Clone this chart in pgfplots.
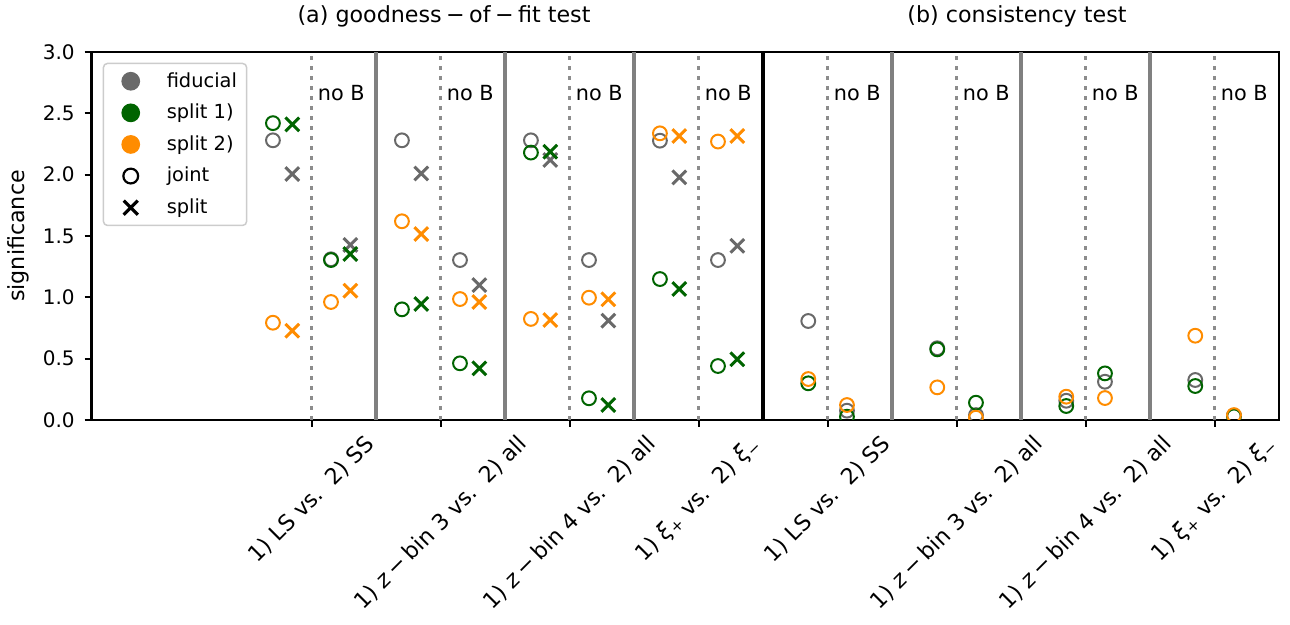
\documentclass[border=0pt]{standalone}
\usepackage{pgfplots}
\pgfplotsset{compat=1.18}
\usepackage{fontspec}
\setmainfont{DejaVu Sans}
\definecolor{cgray}{HTML}{696969}
\definecolor{cgreen}{HTML}{006400}
\definecolor{corange}{HTML}{FF8C00}
\definecolor{lgray}{HTML}{808080}
\definecolor{dgray}{HTML}{8C8C8C}
\pgfplotsset{
  jc/.style={only marks, mark=o, mark size=3.45pt, line width=1pt, forget plot},
  sc/.style={only marks, mark=x, mark size=4.85pt, line width=1.5pt, forget plot},
  sep/.style={forget plot, lgray, line width=1.75pt},
  dot/.style={forget plot, dgray, line width=1.75pt, dash pattern=on 1.75pt off 3.25pt},
}
\tikzset{noB/.style={anchor=west, inner sep=0pt, font=\fontsize{10.4}{12}\selectfont}}
\newcommand{\mi}{\hspace{0.2em}−\hspace{0.2em}}
\begin{document}
\begin{tikzpicture}
\useasboundingbox (-45.85pt,-102.5pt) rectangle (599.15pt,210pt);
\begin{axis}[
  name=ax, at={(0pt,0pt)}, anchor=south west,
  scale only axis, width=593.7pt, height=184pt,
  xmin=-1.705, xmax=7.5, ymin=0, ymax=3,
  axis line style={line width=1.25pt},
  tick align=outside, tick pos=left,
  major tick length=3.5pt,
  every tick/.style={black, line width=1pt},
  xtick={0,1,2,3,4,5,6,7},
  xticklabels={
    {\rotatebox{45}{1) LS vs.\ \ 2) SS}},
    {\rotatebox{45}{1) {\itshape z}\mi bin 3 vs.\ \ 2) all}},
    {\rotatebox{45}{1) {\itshape z}\mi bin 4 vs.\ \ 2) all}},
    {\rotatebox{45}{1) {\itshape ξ}\textsubscript{+} vs.\ \ 2) {\itshape ξ}\textsubscript{−}}},
    {\rotatebox{45}{1) LS vs.\ \ 2) SS}},
    {\rotatebox{45}{1) {\itshape z}\mi bin 3 vs.\ \ 2) all}},
    {\rotatebox{45}{1) {\itshape z}\mi bin 4 vs.\ \ 2) all}},
    {\rotatebox{45}{1) {\itshape ξ}\textsubscript{+} vs.\ \ 2) {\itshape ξ}\textsubscript{−}}}},
  xticklabel style={anchor=north, inner sep=0pt, yshift=-3pt, font=\fontsize{11.1}{13}\selectfont},
  ytick={0,0.5,1,1.5,2,2.5,3},
  /pgf/number format/assume math mode=true,
  yticklabel style={font=\fontsize{10}{12}\selectfont, xshift=-1.5pt, /pgf/number format/fixed, /pgf/number format/fixed zerofill, /pgf/number format/precision=1},
  ylabel={significance},
  ylabel style={at={(axis description cs:-0.0617,0.5)}, anchor=center, font=\fontsize{11.1}{13}\selectfont},
  clip marker paths=true,
  legend image code/.code={\path[draw=none,fill=none] (-8.8pt,-7.9pt) rectangle (12pt,7.9pt); \draw[#1] plot coordinates {(0pt,0pt)};},
  legend style={at={(0,1)}, anchor=north west, xshift=5.5pt, yshift=-5.35pt,
    draw=black!20, line width=0.75pt, rounded corners=2pt, inner xsep=4.85pt, inner ysep=1pt,
    font=\fontsize{9.7}{11}\selectfont, nodes={inner sep=0pt},
    /tikz/every odd column/.append style={column sep=6pt}},
  legend cell align=left,
]
\addlegendimage{only marks, mark=*, mark size=4.3pt, cgray}
\addlegendentry{fiducial}
\addlegendimage{only marks, mark=*, mark size=4.3pt, cgreen}
\addlegendentry{split 1)}
\addlegendimage{only marks, mark=*, mark size=4.3pt, corange}
\addlegendentry{split 2)}
\addlegendimage{only marks, mark=o, mark size=3.7pt, line width=1.1pt, black}
\addlegendentry{joint}
\addlegendimage{only marks, mark=x, mark size=5pt, line width=1.6pt, black}
\addlegendentry{split}

% separators
\addplot[sep] coordinates {(0.5,0) (0.5,3)};
\addplot[sep] coordinates {(1.5,0) (1.5,3)};
\addplot[sep] coordinates {(2.5,0) (2.5,3)};
\addplot[sep] coordinates {(4.5,0) (4.5,3)};
\addplot[sep] coordinates {(5.5,0) (5.5,3)};
\addplot[sep] coordinates {(6.5,0) (6.5,3)};
\addplot[forget plot, black, line width=1.9pt] coordinates {(3.5,0) (3.5,3)};
\addplot[dot] coordinates {(0,0) (0,3)};
\addplot[dot] coordinates {(1,0) (1,3)};
\addplot[dot] coordinates {(2,0) (2,3)};
\addplot[dot] coordinates {(3,0) (3,3)};
\addplot[dot] coordinates {(4,0) (4,3)};
\addplot[dot] coordinates {(5,0) (5,3)};
\addplot[dot] coordinates {(6,0) (6,3)};
\addplot[dot] coordinates {(7,0) (7,3)};

% fiducial
\addplot[jc, cgray] coordinates {(-0.3,2.28) (0.15,1.31) (0.7,2.28) (1.15,1.304) (1.7,2.28) (2.15,1.304) (2.7,2.277) (3.15,1.304)
  (3.85,0.807) (4.15,0.076) (4.85,0.585) (5.15,0.04) (5.85,0.157) (6.15,0.312) (6.85,0.326) (7.15,0.035)};
\addplot[sc, cgray] coordinates {(-0.15,2.005) (0.3,1.427) (0.85,2.01) (1.3,1.10) (1.85,2.12) (2.3,0.81) (2.85,1.978) (3.3,1.42)};
% split 1)
\addplot[jc, cgreen] coordinates {(-0.3,2.42) (0.15,1.304) (0.7,0.902) (1.15,0.462) (1.7,2.18) (2.15,0.177) (2.7,1.149) (3.15,0.44)
  (3.85,0.299) (4.15,0.027) (4.85,0.576) (5.15,0.141) (5.85,0.114) (6.15,0.38) (6.85,0.277) (7.15,0.03)};
\addplot[sc, cgreen] coordinates {(-0.15,2.41) (0.3,1.353) (0.85,0.946) (1.3,0.421) (1.85,2.187) (2.3,0.122) (2.85,1.068) (3.3,0.495)};
% split 2)
\addplot[jc, corange] coordinates {(-0.3,0.793) (0.15,0.962) (0.7,1.62) (1.15,0.986) (1.7,0.824) (2.15,0.997) (2.7,2.337) (3.15,2.27)
  (3.85,0.334) (4.15,0.122) (4.85,0.266) (5.15,0.019) (5.85,0.19) (6.15,0.179) (6.85,0.687) (7.15,0.04)};
\addplot[sc, corange] coordinates {(-0.15,0.728) (0.3,1.054) (0.85,1.516) (1.3,0.962) (1.85,0.815) (2.3,0.984) (2.85,2.315) (3.3,2.315)};

\node[noB] at (axis cs:0.045,2.666) {no B};
\node[noB] at (axis cs:1.045,2.666) {no B};
\node[noB] at (axis cs:2.045,2.666) {no B};
\node[noB] at (axis cs:3.045,2.666) {no B};
\node[noB] at (axis cs:4.045,2.666) {no B};
\node[noB] at (axis cs:5.045,2.666) {no B};
\node[noB] at (axis cs:6.045,2.666) {no B};
\node[noB] at (axis cs:7.045,2.666) {no B};
\end{axis}
\node[font=\fontsize{11.1}{13}\selectfont, inner sep=0pt] at ([xshift=176.15pt, yshift=17.9pt]ax.north west) {(a) goodness\mi of\mi fit test};
\node[font=\fontsize{11.1}{13}\selectfont, inner sep=0pt] at ([xshift=462.65pt, yshift=17.9pt]ax.north west) {(b) consistency test};
\end{tikzpicture}
\end{document}
